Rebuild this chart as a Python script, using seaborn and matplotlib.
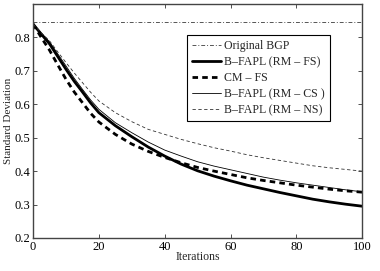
import matplotlib as mpl
mpl.use('Agg')
import matplotlib.pyplot as plt
import seaborn as sns

iterations = [0, 2.5, 5, 7.5, 10, 12.5, 15, 17.5, 20, 25, 30, 35, 40, 45, 50,
              55, 60, 65, 70, 75, 80, 85, 90, 95, 100]

bgp_level = 0.845

rm_fs = [0.84, 0.81, 0.781, 0.743, 0.705, 0.669, 0.637, 0.604, 0.575, 0.536, 0.503, 0.472, 0.445,
         0.421, 0.401, 0.385, 0.371, 0.358, 0.347, 0.336, 0.326, 0.316, 0.308, 0.301, 0.295]
cm_fs = [0.84, 0.80, 0.762, 0.718, 0.675, 0.637, 0.605, 0.573, 0.547, 0.51, 0.481, 0.459, 0.441,
         0.425, 0.411, 0.40, 0.39, 0.38, 0.372, 0.365, 0.358, 0.352, 0.346, 0.341, 0.337]
rm_cs = [0.84, 0.813, 0.787, 0.751, 0.715, 0.678, 0.645, 0.613, 0.585, 0.545, 0.515, 0.487, 0.463,
         0.445, 0.428, 0.415, 0.404, 0.393, 0.382, 0.373, 0.365, 0.358, 0.351, 0.344, 0.338]
rm_ns = [0.84, 0.814, 0.79, 0.757, 0.725, 0.694, 0.665, 0.636, 0.61, 0.575, 0.548, 0.525, 0.51,
         0.495, 0.482, 0.47, 0.46, 0.449, 0.44, 0.432, 0.424, 0.416, 0.41, 0.405, 0.40]

labels = ['Original BGP', 'B\u2013FAPL (RM \u2013 FS)', 'CM \u2013 FS',
          'B\u2013FAPL (RM \u2013 CS )', 'B\u2013FAPL (RM \u2013 NS)']

sns.set_style('ticks')
plt.rcParams['font.family'] = ['Liberation Serif', 'DejaVu Serif']
plt.rcParams['font.size'] = 9

fig = plt.figure(figsize=(3.8, 2.71), dpi=100)
ax = fig.add_axes([0.087, 0.122, 0.866, 0.863])

ax.axhline(bgp_level, color='#555555', lw=0.7, dashes=(4, 2, 1, 2), label=labels[0])
sns.lineplot(x=iterations, y=rm_fs, ax=ax, color='black', lw=2.0, label=labels[1])
sns.lineplot(x=iterations, y=cm_fs, ax=ax, color='black', lw=2.0, label=labels[2])
sns.lineplot(x=iterations, y=rm_cs, ax=ax, color='black', lw=0.6, label=labels[3])
sns.lineplot(x=iterations, y=rm_ns, ax=ax, color='#333333', lw=0.6, label=labels[4])
ax.lines[2].set_dashes((2, 1.5))
ax.lines[4].set_dashes((4, 3))

ax.set_xlim(0, 100)
ax.set_ylim(0.2, 0.9)
ax.set_xticks([0, 20, 40, 60, 80, 100])
ax.set_yticks([0.2, 0.3, 0.4, 0.5, 0.6, 0.7, 0.8])
ax.set_yticklabels(['0.2', '0.3', '0.4', '0.5', '0.6', '0.7', '0.8'])
ax.tick_params(direction='in', length=3, width=0.6, labelsize=9, top=True, right=True,
               pad=2, colors='#333333', labelcolor='black')
for s in ax.spines.values():
    s.set_visible(True)
    s.set_linewidth(1.0)
    s.set_color('#444444')

ax.set_xlabel('Iterations', fontsize=8.5, labelpad=-1)
ax.set_ylabel('Standard Deviation', fontsize=8, labelpad=1)

leg = ax.legend(loc='upper left', bbox_to_anchor=(0.468, 0.868), fancybox=False,
                frameon=True, edgecolor='black', framealpha=1, fontsize=8.6,
                handlelength=2.4, handletextpad=0.3, labelspacing=0.35,
                borderpad=0.4, borderaxespad=0)
leg.get_frame().set_linewidth(0.8)

plt.savefig('out.png', dpi=100)
plt.close()
